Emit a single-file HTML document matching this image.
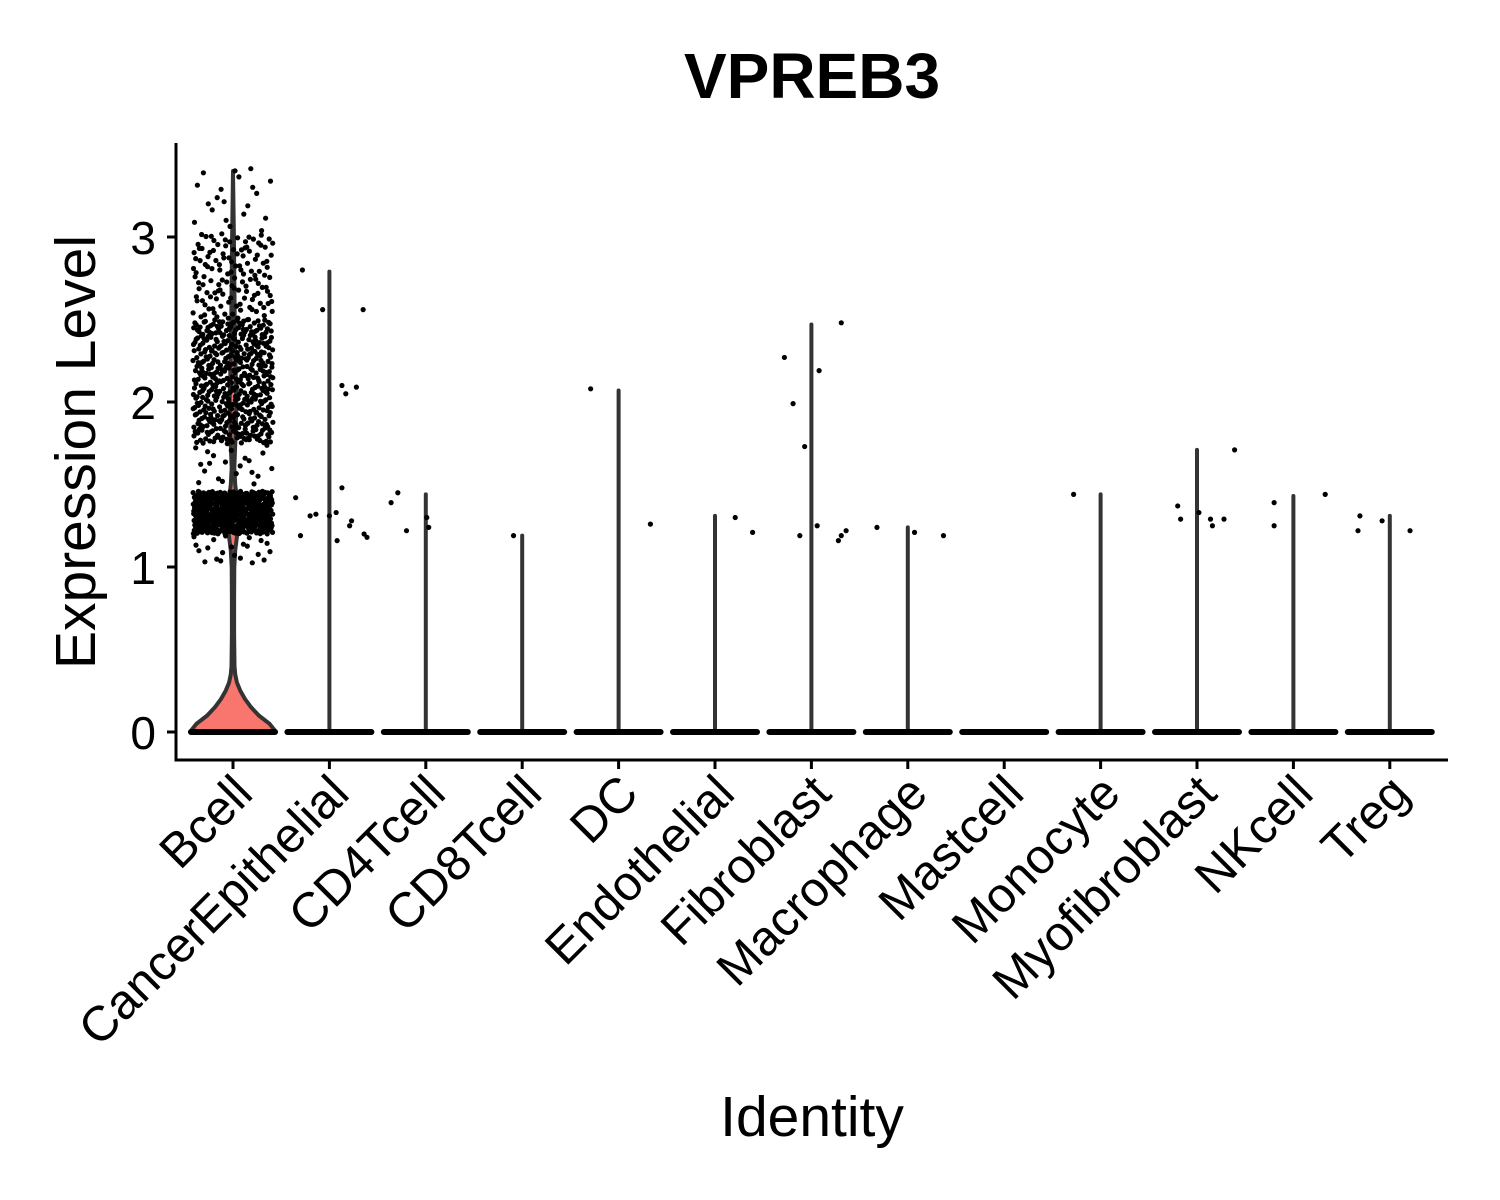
<!DOCTYPE html>
<html><head><meta charset="utf-8"><style>
html,body{margin:0;padding:0;background:#fff}
svg{display:block;font-family:"Liberation Sans",Arial,sans-serif}
</style></head><body>
<svg id="chart" width="1500" height="1200" viewBox="0 0 1500 1200" xmlns="http://www.w3.org/2000/svg">
<text x="812" y="98" text-anchor="middle" font-size="64" font-weight="bold">VPREB3</text>
<g id="plot"></g>
<g id="axes"></g>
<text x="812" y="1136" text-anchor="middle" font-size="57">Identity</text>
<text transform="translate(95,452) rotate(-90)" text-anchor="middle" font-size="57">Expression Level</text>
</svg>
<script>
const categories=["Bcell","CancerEpithelial","CD4Tcell","CD8Tcell","DC","Endothelial","Fibroblast","Macrophage","Mastcell","Monocyte","Myofibroblast","NKcell","Treg"];
const maxValues=[3.4,2.79,1.44,1.19,2.07,1.31,2.47,1.24,0,1.44,1.71,1.43,1.31];
const yTicks=[0,1,2,3];
const bcellDensityAt=[0,0.05,0.1,0.15,0.2,0.25,0.3,0.35,0.4,0.6,0.8,1.0,1.1,1.2,1.3,1.4,1.5,1.6,1.8,2.0,2.2,2.5,3.0,3.4];
const bcellDensity=[1,0.85,0.6,0.42,0.28,0.17,0.09,0.05,0.035,0.025,0.025,0.03,0.05,0.1,0.13,0.1,0.05,0.03,0.06,0.08,0.06,0.04,0.02,0];
// Bcell point bins: [low, high, count]
const bcellBins=[[1.02,1.2,22],[1.2,1.46,420],[1.5,1.75,22],[1.75,2.5,470],[2.5,3.02,130],[3.02,3.42,20]];
// outlier points: [categoryIndex, value, jitterFraction]
const outliers=[[1,2.80,-.28],[1,2.56,-.07],[1,2.56,.35],[1,2.10,.13],[1,2.05,.17],[1,2.09,.28],[1,1.42,-.35],[1,1.19,-.30],[1,1.31,-.2],[1,1.32,-.14],[1,1.48,.13],[1,1.31,0],[1,1.33,.07],[1,1.28,.23],[1,1.16,.08],[1,1.20,.36],[1,1.18,.39],[1,1.25,.21],
[2,1.45,-.29],[2,1.39,-.36],[2,1.22,-.2],[2,1.30,.01],[2,1.24,.03],
[3,1.19,-.09],[4,2.08,-.29],[4,1.26,.33],[5,1.30,.21],[5,1.21,.39],
[6,2.27,-.28],[6,1.99,-.19],[6,1.73,-.07],[6,2.48,.31],[6,2.19,.08],[6,1.19,-.12],[6,1.25,.06],[6,1.16,.28],[6,1.19,.31],[6,1.22,.36],
[7,1.24,-.32],[7,1.21,.07],[7,1.19,.37],[9,1.44,-.28],
[10,1.37,-.2],[10,1.29,-.17],[10,1.33,.02],[10,1.29,.14],[10,1.25,.16],[10,1.29,.28],[10,1.71,.39],
[11,1.39,-.2],[11,1.25,-.2],[11,1.44,.33],[12,1.31,-.31],[12,1.22,-.33],[12,1.28,-.08],[12,1.22,.21]];

const NS="http://www.w3.org/2000/svg";
const L=176,R=1448,B=760,T=143;
const xStep=96.4,x0=233;
const xs=i=>x0+i*xStep;
const ys=v=>732-v*165;
const mk=(tag,attrs,parent)=>{const e=document.createElementNS(NS,tag);for(const k in attrs)e.setAttribute(k,attrs[k]);parent.appendChild(e);return e;};
const halton=(n,b)=>{let f=1,r=0;while(n>0){f/=b;r+=f*(n%b);n=Math.floor(n/b);}return r;};
const plot=document.getElementById('plot'),axes=document.getElementById('axes');

let cx=xs(0),hw=43;
let right=bcellDensityAt.map((v,i)=>[cx+bcellDensity[i]*hw,ys(v)]);
let left=bcellDensityAt.map((v,i)=>[cx-bcellDensity[i]*hw,ys(v)]).reverse();
let d="M"+right.map(p=>p[0].toFixed(1)+","+p[1].toFixed(1)).join(" L")+" L"+left.map(p=>p[0].toFixed(1)+","+p[1].toFixed(1)).join(" L")+"Z";
const vio=mk('path',{d:d,fill:'#F8766D',stroke:'#333',"stroke-width":4,"stroke-linejoin":"round"},plot);



categories.forEach((c,i)=>{
  if(i===0||maxValues[i]<=0)return;
  const ln=mk('line',{x1:xs(i),x2:xs(i),y1:ys(0),y2:ys(maxValues[i]),stroke:'#333',"stroke-width":4,"stroke-linecap":"round"},plot);
  
  
});
categories.forEach((c,i)=>{
  const z=mk('line',{x1:xs(i)-42,x2:xs(i)+42,y1:ys(0),y2:ys(0),stroke:'#000',"stroke-width":6,"stroke-linecap":"round"},plot);
  
  
});
const pts=mk('g',{},plot);


let k=0;
bcellBins.forEach(b=>{
  for(let j=0;j<b[2];j++){k++;
    const fx=halton(k+7,3)*2-1, fy=halton(k+3,2);
    mk('circle',{cx:(xs(0)+fx*40).toFixed(1),cy:ys(b[0]+fy*(b[1]-b[0])).toFixed(1),r:2.6,fill:'#000'},pts);
  }
});
const op=mk('g',{},plot);


outliers.forEach(o=>mk('circle',{cx:xs(o[0])+o[2]*xStep,cy:ys(o[1]),r:2.6,fill:'#000'},op));

mk('line',{x1:L,x2:L,y1:T,y2:B+1.5,stroke:'#000',"stroke-width":3},axes);
mk('line',{x1:L-1.5,x2:R,y1:B,y2:B,stroke:'#000',"stroke-width":3},axes);
yTicks.forEach(t=>{
  mk('line',{x1:L-9,x2:L,y1:ys(t),y2:ys(t),stroke:'#000',"stroke-width":3},axes);
  const tx=mk('text',{x:L-20,y:ys(t)+17,"text-anchor":"end","font-size":46},axes);
  tx.textContent=t;
  
  
});
categories.forEach((c,i)=>{
  mk('line',{x1:xs(i),x2:xs(i),y1:B,y2:B+9,stroke:'#000',"stroke-width":3},axes);
  const tx=mk('text',{transform:`translate(${xs(i)+22},${B+36}) rotate(-45)`,"text-anchor":"end","font-size":49},axes);
  tx.textContent=c;
  
  
});
</script>
</body></html>
